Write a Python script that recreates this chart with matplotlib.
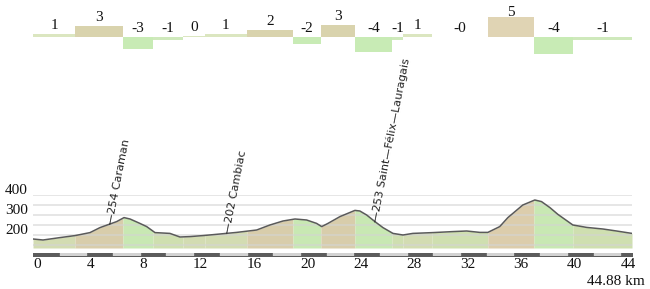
import numpy as np
import matplotlib
matplotlib.use('Agg')
import matplotlib.pyplot as plt

# elevation profile: distance (km) / elevation (m)
dist_km = [0.0, 0.75, 2.02, 3.15, 4.27, 5.02, 5.77, 6.27, 6.82, 7.27, 8.01, 8.52,
           9.14, 10.26, 11.01, 11.76, 12.73, 14.01, 15.26, 16.76, 17.75, 18.73,
           19.63, 20.50, 21.25, 21.63, 22.10, 23.00, 24.12, 24.49, 25.00, 25.62,
           26.22, 26.97, 27.72, 28.46, 29.96, 31.46, 32.49, 33.48, 34.08, 34.97,
           35.58, 36.70, 37.60, 38.10, 38.73, 39.33, 40.45, 41.48, 42.70, 43.72, 44.88]
elev_m = [180, 175, 187, 197, 212, 237, 255, 267, 287, 280, 258, 242,
          212, 208, 190, 192, 197, 205, 213, 225, 250, 270,
          280, 275, 258, 242, 258, 292, 323, 320, 300, 267,
          237, 208, 200, 208, 212, 217, 220, 213, 213, 242,
          287, 350, 375, 367, 337, 303, 250, 238, 230, 220, 208]

# climb segments: edges (km) and mean gradient (%)
seg_edges = [0, 3.15, 6.74, 8.99, 11.24, 12.88, 16.03, 19.48, 21.57, 24.12,
             26.89, 27.72, 29.89, 34.08, 37.53, 40.45, 44.88]
seg_grad = [0.6, 2.6, -3.2, -0.9, 0.2, 0.6, 1.7, -1.8, 3.0, -3.9,
            -0.9, 0.6, -0.1, 5.0, -4.3, -0.9]

towns = ['Caraman', 'Cambiac', 'Saint\u2014F\u00e9lix\u2014Lauragais']
town_km = [5.77, 14.53, 25.62]
town_alt = [254, 202, 253]

y_labels = [200, 300, 400]
total_km = 44.88

SERIF = 'Liberation Serif'
W, H = 650, 289


def bar_color(g):
    if g >= 4:
        return '#e0d4b4'
    if g >= 1.5:
        return '#d9d3ad'
    if g >= 0:
        return '#dbe6c0'
    if g > -1.5:
        return '#cfe9bc'
    return '#c8ebb5'


def fill_color(g):
    if g >= 4:
        return '#dccdac'
    if g >= 1.5:
        return '#d8cdab'
    if g >= 0:
        return '#d3dcb2'
    if g > -1.5:
        return '#cfdfb0'
    return '#c8e8b3'


fig = plt.figure(figsize=(W / 100, H / 100), dpi=100)


def px_axes(x0, y0, x1, y1):
    return fig.add_axes([x0 / W, 1 - y1 / H, (x1 - x0) / W, (y1 - y0) / H])


# gradient bars on top
ax_g = px_axes(33, 0, 632, 60)
base_px, unit_px = 36.5, 4.0
ax_g.set_xlim(0, total_km)
ax_g.set_ylim(-(60 - base_px) / unit_px, base_px / unit_px)
ax_g.axis('off')
lefts = np.array(seg_edges[:-1])
widths = np.diff(seg_edges)
ax_g.bar(lefts, seg_grad, width=widths, align='edge',
         color=[bar_color(g) for g in seg_grad], linewidth=0)
for l, w, g in zip(lefts, widths, seg_grad):
    ax_g.text(l + w / 2, min(max(g, 0) + 1.25, 5.2), f'{g:.0f}',
              ha='center', va='baseline', fontsize=11, family=SERIF, color='#111')

# elevation profile
ax = px_axes(33, 195, 632, 248)
ymin = 135
ax.set_xlim(0, total_km)
ax.set_ylim(ymin, 400)
for s in ax.spines.values():
    s.set_visible(False)
ax.set_xticks([])
ax.set_yticks(np.arange(150, 401, 50))
ax.tick_params(axis='y', length=0, labelleft=False)
ax.yaxis.grid(True, color='#d4d4d4', lw=1.1, alpha=0.75)
ax.set_axisbelow(False)

for a, b, g in zip(seg_edges[:-1], seg_edges[1:], seg_grad):
    xs = [a] + [d for d in dist_km if a < d < b] + [b]
    ys = np.interp(xs, dist_km, elev_m)
    ax.fill_between(xs, ys, ymin, color=fill_color(g), lw=0, zorder=1)
ax.plot(dist_km, elev_m, color='#5a5a5a', lw=1.1, zorder=3)

for v in y_labels:
    ax.annotate(str(v), xy=(0, v), xycoords=ax.get_yaxis_transform(),
                xytext=(-3.6, 0.5), textcoords='offset points',
                ha='right', va='baseline', fontsize=11, family=SERIF, color='#111')

for name, km, alt in zip(towns, town_km, town_alt):
    ax.text(km, np.interp(km, dist_km, elev_m), '\u2014' + str(alt) + ' ' + name,
            rotation=79, rotation_mode='anchor', ha='left', va='center',
            fontsize=8, color='#222', clip_on=False, zorder=4)

# distance scale bar
ax_s = px_axes(33, 252.5, 632, 256)
ax_s.set_xlim(0, total_km)
ax_s.set_ylim(0, 1)
for s in ax_s.spines.values():
    s.set_visible(False)
ax_s.set_yticks([])
ax_s.broken_barh([(0, total_km)], (0, 1), color='#5c5c5c')
light = [(s, min(2, total_km - s)) for s in np.arange(2, total_km, 4)]
ax_s.broken_barh(light, (0.25, 0.5), color='#d2d2d2')
ticks = list(range(0, 45, 4))
ax_s.set_xticks(ticks, labels=[str(t) for t in ticks], ha='left')
ax_s.tick_params(axis='x', length=0, pad=1.5, labelsize=11, labelcolor='#111')
for lab in ax_s.get_xticklabels():
    lab.set_family(SERIF)

fig.text(645 / W, 1 - 285 / H, f'{total_km} km', ha='right', va='baseline',
         fontsize=11, family=SERIF, color='#111')

fig.savefig('out.png', dpi=100)
